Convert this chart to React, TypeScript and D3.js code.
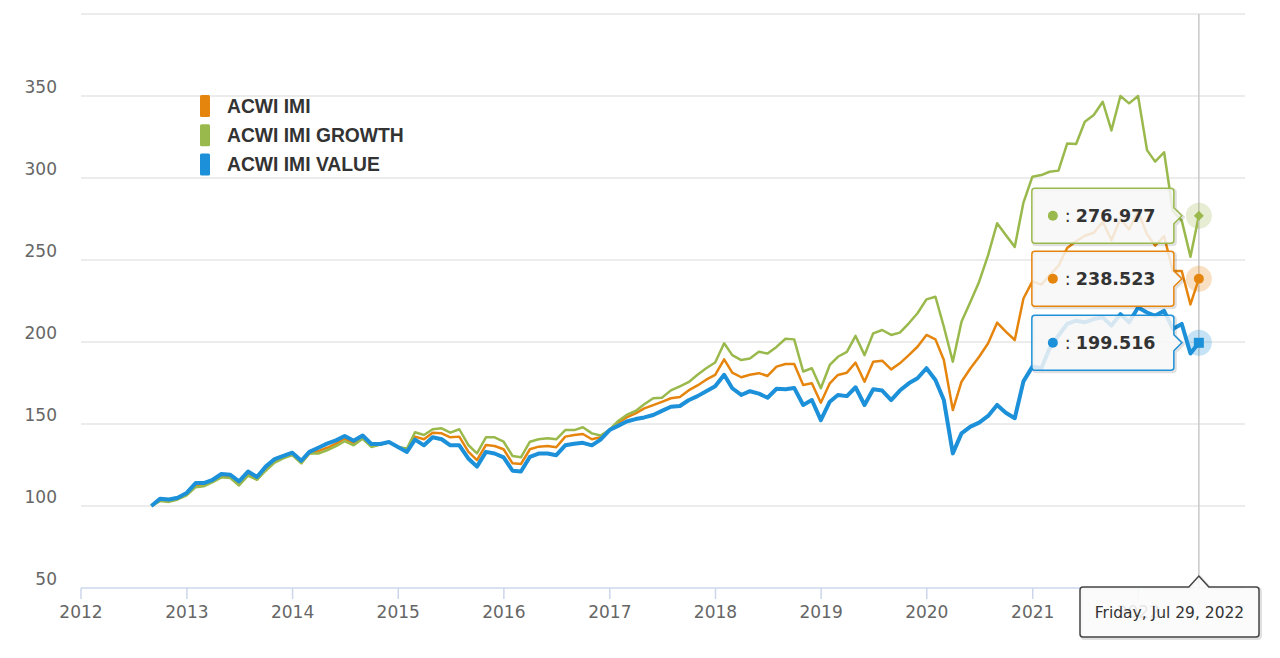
import React from "react";
import * as d3 from "d3";

// monthly index levels, Aug 2012 .. Jul 2022 (base 100)
const seriesNames = ["ACWI IMI", "ACWI IMI GROWTH", "ACWI IMI VALUE"];
const seriesColors = ["#e6850e", "#9ab94c", "#1c90d8"];

const acwiImi = [
  100, 103.5, 103, 104.3, 107, 112.5, 113, 115, 118, 118, 113.5, 119.5, 116.5, 122.5, 127.5, 129.5, 131.5, 126.5, 132, 133.5, 135.5, 138, 141, 138, 142, 136.5, 137.5, 139, 136, 134,
  142.3, 140.7, 144.7, 144.3, 141.9, 142.3, 133.2, 128, 137.2, 136.6, 134.6, 126, 125.6, 134.6, 136.2, 136.6, 135.8, 142.3, 143.3, 143.9, 140.7, 141.9,
  146.3, 151, 154, 156.5, 159.5, 161.5, 163.5, 165.7, 166.5, 170.5, 173.5, 177, 180,
  189.4, 181.3, 178.5, 180, 181, 179.3, 185, 186.6, 186.6, 173.8, 174.8, 163,
  174.8, 179.9, 181.3, 187.4, 175.8, 188, 188.6, 183.3, 187, 192, 197.1, 204.3, 201.6, 189, 158.5, 175.8, 184, 191, 199.2, 211.8, 206.3, 201.2, 226.5, 237,
  235, 240.6, 246.4, 257.3, 261.4, 264.8, 266.6, 273.3, 262.1, 275.2, 268.6, 279.4, 265.7, 258.8, 264.5, 243.3, 243.3, 222.9, 238.523,
];

const acwiImiGrowth = [
  100, 103, 102.5, 104, 106.5, 111.5, 112, 114.5, 117.5, 117, 112.5, 118.5, 116, 121.5, 126.5, 129, 131, 126, 132, 132, 134, 136.5, 139.5, 137, 141, 136, 137.5, 139, 136, 135,
  145, 143.3, 146.8, 147.4, 144.7, 146.8, 137.2, 132.1, 141.9, 141.9, 139.2, 130.5, 129.7, 139.2, 140.7, 141.3, 140.7, 146.3, 146.3, 148, 144.3, 143,
  146.5, 152, 155.5, 158, 162, 165.7, 166, 170.5, 173, 175.5, 180, 184, 187.5,
  199.2, 192, 189, 190, 194, 193, 197, 202, 201.6, 182, 184, 171.8,
  186, 191, 194, 203.7, 192, 205.3, 207.3, 204.3, 205.7, 211.4, 217.5, 226, 227.6, 209.3, 188, 212.4, 224.6, 236.8, 253, 272.4, 265.2, 258, 285, 300.8,
  301.8, 303.8, 304.5, 321, 320.7, 334.3, 338.4, 346.5, 329, 350, 345.5, 350, 317, 310, 315.7, 280, 274, 252, 276.977,
];

const acwiImiValue = [
  100, 104.4, 104, 105, 108, 114, 114, 116, 119.5, 119, 115, 121, 117.7, 124, 128.6, 130.5, 132.5, 127.6, 133, 135.5, 138, 140, 142.7, 139.8, 143, 137.8, 137.8, 139, 136, 133,
  140.5, 137, 141.9, 140.7, 137, 137, 129, 124, 133, 132, 129.7, 121.5, 121, 130, 132, 132, 131, 137, 138, 138.5, 137, 140.5,
  146.3, 149, 151.5, 153, 154, 155.5, 158, 160.5, 161, 164.5, 167, 170, 173,
  180, 171.8, 167.7, 170, 168.5, 166, 171.5, 171.2, 172, 161.6, 164.6, 152.4,
  163.6, 167.7, 167, 172.4, 161.6, 171.2, 170.4, 164.6, 170.4, 174.8, 177.9, 184, 176.8, 164.6, 132.1, 144.3, 148.4, 150.8, 154.9, 161.6, 156.9, 153.5, 176, 185,
  184, 196, 204, 211, 213, 212, 214, 215, 210, 217, 212, 221, 218, 216, 219, 208, 211, 193, 199.516,
];

const yTicks = [50, 100, 150, 200, 250, 300, 350, 400];
const yLabels = [50, 100, 150, 200, 250, 300, 350];
const xYears = [2012, 2013, 2014, 2015, 2016, 2017, 2018, 2019, 2020, 2021, 2022];
const tooltipValues = ["276.977", "238.523", "199.516"];
const tooltipDate = "Friday, Jul 29, 2022";

// month-end dates, last point is the last business day
const lastDate = new Date(2022, 6, 29);
const dates = acwiImi.map((_, i) =>
  i === acwiImi.length - 1 ? lastDate : d3.timeDay.offset(d3.timeMonth.offset(new Date(2012, 8, 1), i), -1)
);

export default function App() {
  const W = 1280;
  const H = 658;
  const left = 81;
  const right = 1245;

  const x = d3.scaleTime().domain([new Date(2012, 0, 1), new Date(2023, 0, 1)]).range([left, 1244]);
  const y = d3.scaleLinear().domain([50, 400]).range([588, 14]);

  const line = d3
    .line<number>()
    .x((_, i) => x(dates[i]))
    .y((d) => y(d));

  // drawing order: imi, growth, value (value is highlighted / on top)
  const drawn = [
    { data: acwiImi, color: seriesColors[0], width: 2.5 },
    { data: acwiImiGrowth, color: seriesColors[1], width: 2.5 },
    { data: acwiImiValue, color: seriesColors[2], width: 4 },
  ];

  const xEnd = x(lastDate);
  const last = [acwiImiGrowth, acwiImi, acwiImiValue].map((s) => s[s.length - 1]);
  const tipColors = [seriesColors[1], seriesColors[0], seriesColors[2]];

  const boxW = 142;
  const boxH = 55;
  const boxRight = xEnd - 25;

  return (
    <svg width={W} height={H} style={{ position: "absolute", left: 0, top: 0, background: "#fff" }}>
      {/* grid */}
      {yTicks.filter((t) => t > 50).map((t) => (
        <line key={t} x1={left} x2={right} y1={y(t)} y2={y(t)} stroke="#e6e6e6" strokeWidth={1.5} />
      ))}
      <line x1={left} x2={right} y1={y(50)} y2={y(50)} stroke="#ccd6eb" strokeWidth={1.5} />
      {xYears.map((yr) => {
        const px = x(new Date(yr, 0, 1));
        return (
          <g key={yr}>
            <line x1={px} x2={px} y1={588} y2={599} stroke="#ccd6eb" strokeWidth={1.5} />
            <text x={px} y={618} textAnchor="middle" fontFamily="DejaVu Sans" fontSize={17} fill="#666">
              {yr}
            </text>
          </g>
        );
      })}
      {yLabels.map((t) => (
        <text key={t} x={57} y={y(t) - 3} textAnchor="end" fontFamily="DejaVu Sans" fontSize={17} fill="#666">
          {t}
        </text>
      ))}

      {/* series */}
      {drawn.map((s, i) => (
        <path key={i} d={line(s.data) || ""} fill="none" stroke={s.color} strokeWidth={s.width} strokeLinejoin="round" />
      ))}

      {/* legend */}
      {seriesNames.map((n, i) => (
        <g key={n} transform={`translate(200, ${106 + i * 29.3})`}>
          <rect x={0} y={-11} width={10} height={22} rx={1.5} fill={seriesColors[i]} />
          <text x={27} y={6.7} fontFamily="Liberation Sans" fontWeight="bold" fontSize={19.3} fill="#333">
            {n}
          </text>
        </g>
      ))}

      {/* crosshair */}
      <line x1={xEnd} x2={xEnd} y1={14} y2={588} stroke="#c8c8c8" strokeWidth={1.5} />

      {/* hover markers */}
      {last.map((v, i) => {
        const cy = y(v);
        return (
          <g key={i}>
            <circle cx={xEnd} cy={cy} r={13} fill={tipColors[i]} opacity={0.25} />
            {i === 0 && (
              <path d={`M${xEnd},${cy - 5} L${xEnd + 5},${cy} L${xEnd},${cy + 5} L${xEnd - 5},${cy} Z`} fill={tipColors[i]} />
            )}
            {i === 1 && <circle cx={xEnd} cy={cy} r={5} fill={tipColors[i]} />}
            {i === 2 && <rect x={xEnd - 5} y={cy - 5} width={10} height={10} fill={tipColors[i]} />}
          </g>
        );
      })}

      {/* split tooltips */}
      {last.map((v, i) => {
        const cy = y(v);
        const x0 = boxRight - boxW;
        const top = cy - boxH / 2;
        const p = `M${x0 + 3},${top} L${boxRight - 3},${top} Q${boxRight},${top} ${boxRight},${top + 3} L${boxRight},${cy - 8} L${boxRight + 8},${cy} L${boxRight},${cy + 8} L${boxRight},${top + boxH - 3} Q${boxRight},${top + boxH} ${boxRight - 3},${top + boxH} L${x0 + 3},${top + boxH} Q${x0},${top + boxH} ${x0},${top + boxH - 3} L${x0},${top + 3} Q${x0},${top} ${x0 + 3},${top} Z`;
        return (
          <g key={i}>
            <path d={p} transform="translate(1.5,1.5)" fill="none" stroke="rgba(0,0,0,0.12)" strokeWidth={3} />
            <path d={p} fill="rgba(247,247,247,0.85)" stroke={tipColors[i]} strokeWidth={1.5} />
            <circle cx={x0 + 21} cy={cy} r={5} fill={tipColors[i]} />
            <text x={x0 + 33} y={cy + 6} fontFamily="DejaVu Sans" fontSize={17.5} fill="#333">
              :
            </text>
            <text x={x0 + 44} y={cy + 6.5} fontFamily="DejaVu Sans" fontWeight="bold" fontSize={17.5} fill="#333">
              {tooltipValues[i]}
            </text>
          </g>
        );
      })}

      {/* date tooltip */}
      {(() => {
        const bx0 = 1080;
        const bx1 = 1259;
        const by0 = 587;
        const by1 = 637;
        const p = `M${bx0 + 3},${by0} L${xEnd - 10},${by0} L${xEnd},${by0 - 11} L${xEnd + 10},${by0} L${bx1 - 3},${by0} Q${bx1},${by0} ${bx1},${by0 + 3} L${bx1},${by1 - 3} Q${bx1},${by1} ${bx1 - 3},${by1} L${bx0 + 3},${by1} Q${bx0},${by1} ${bx0},${by1 - 3} L${bx0},${by0 + 3} Q${bx0},${by0} ${bx0 + 3},${by0} Z`;
        return (
          <g>
            <path d={p} transform="translate(1.5,1.5)" fill="none" stroke="rgba(0,0,0,0.12)" strokeWidth={3} />
            <path d={p} fill="rgba(250,250,250,0.88)" stroke="#444" strokeWidth={1.5} />
            <text x={(bx0 + bx1) / 2} y={618} textAnchor="middle" fontFamily="DejaVu Sans" fontSize={15.5} fill="#333">
              {tooltipDate}
            </text>
          </g>
        );
      })()}
    </svg>
  );
}
